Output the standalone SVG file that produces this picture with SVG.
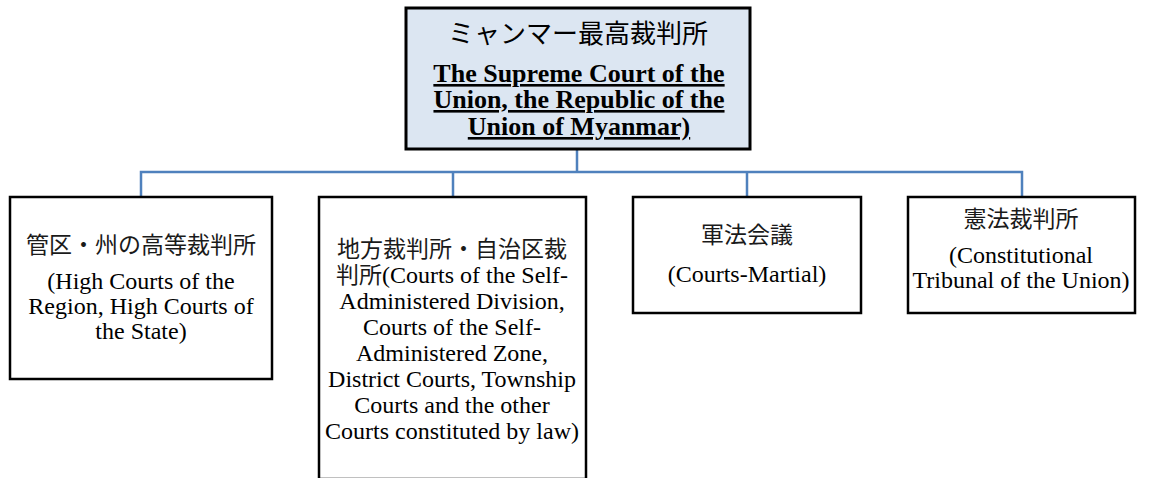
<svg xmlns="http://www.w3.org/2000/svg" width="1152" height="478" viewBox="0 0 1152 478">
<style>
.box{fill:#ffffff;stroke:#000000;stroke-width:2.5}
.top{fill:#dce6f2;stroke:#000000;stroke-width:3}
.en{font-family:"Liberation Serif","Times New Roman",serif;font-size:24px;fill:#000;text-anchor:middle}
.jp{font-family:"Noto Sans CJK JP","Noto Sans CJK SC",sans-serif;font-size:23px;fill:#1a1a1a;text-anchor:middle;font-weight:400}
.jpf{font-family:"Noto Sans CJK JP","Noto Sans CJK SC",sans-serif;font-size:23px;fill:#1a1a1a}
.tb{font-family:"Liberation Serif","Times New Roman",serif;font-size:26px;font-weight:bold;fill:#000;text-anchor:middle;text-decoration:underline}
.conn{fill:none;stroke:#4f81bd;stroke-width:2.5}
</style>
<rect width="1152" height="478" fill="#ffffff"/>
<g id="connectors">
<path class="conn" d="M577 149 V172 M141 197 V172 H1022 V197 M453 172 V197 M747 172 V197"/>
</g>
<g id="supreme">
<rect class="top" x="406" y="8" width="344" height="141"/>
<text class="jp" x="578" y="43" style="font-size:26px;fill:#000">ミャンマー最高裁判所</text>
<text class="tb" x="579" y="82">The Supreme Court of the</text>
<text class="tb" x="579" y="108">Union, the Republic of the</text>
<text class="tb" x="579" y="135">Union of Myanmar)</text>
</g>
<g id="high">
<rect class="box" x="10" y="197" width="262" height="182"/>
<text class="jp" x="141" y="253">管区・州の高等裁判所</text>
<text class="en" x="141" y="289">(High Courts of the</text>
<text class="en" x="141" y="314">Region, High Courts of</text>
<text class="en" x="141" y="339">the State)</text>
</g>
<g id="district">
<rect class="box" x="319" y="197" width="267" height="282"/>
<text class="jp" x="452" y="257">地方裁判所・自治区裁</text>
<text class="en" x="452" y="283"><tspan class="jpf">判所</tspan>(Courts of the Self-</text>
<text class="en" x="452" y="309">Administered Division,</text>
<text class="en" x="452" y="335">Courts of the Self-</text>
<text class="en" x="452" y="361">Administered Zone,</text>
<text class="en" x="452" y="387">District Courts, Township</text>
<text class="en" x="452" y="413">Courts and the other</text>
<text class="en" x="452" y="439">Courts constituted by law)</text>
</g>
<g id="martial">
<rect class="box" x="633" y="197" width="228" height="116"/>
<text class="jp" x="747" y="243">軍法会議</text>
<text class="en" x="747" y="282">(Courts-Martial)</text>
</g>
<g id="constitutional">
<rect class="box" x="908" y="197" width="227" height="116"/>
<text class="jp" x="1021" y="227">憲法裁判所</text>
<text class="en" x="1021" y="263">(Constitutional</text>
<text class="en" x="1021" y="288">Tribunal of the Union)</text>
</g>
</svg>
